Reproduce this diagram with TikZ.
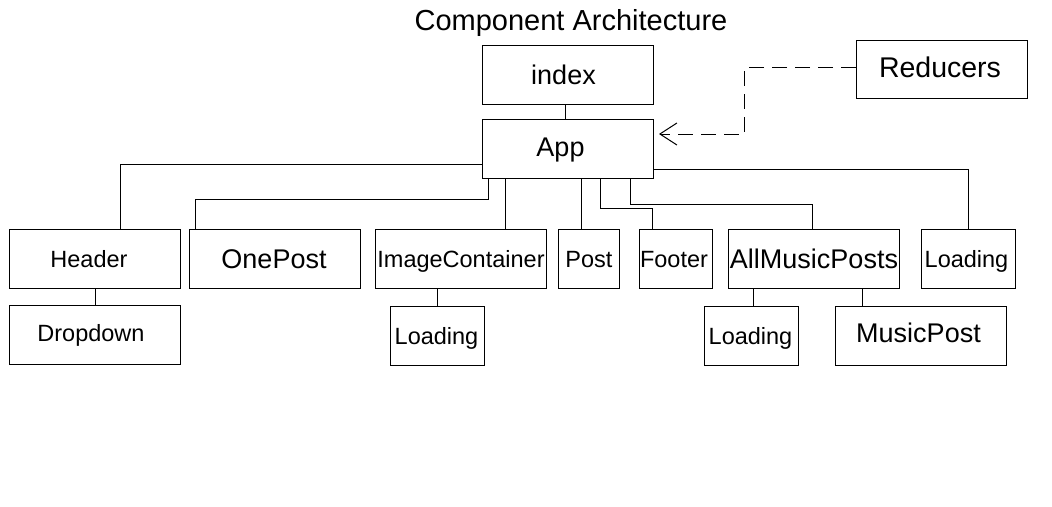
\documentclass[tikz,border=0pt]{standalone}
\usepackage{fontspec}
\setmainfont{Liberation Sans}
\usetikzlibrary{arrows.meta}
\begin{document}
\begin{tikzpicture}[x=1pt,y=-1pt,line width=1pt,
  box/.style={draw,line width=1pt,inner sep=0pt,anchor=north west,minimum height=59pt,text depth=0pt},
  small/.style={font=\fontsize{23.5pt}{28pt}\selectfont,text height=16.9pt},
  big/.style={font=\fontsize{27pt}{32pt}\selectfont,text height=19.4pt},
  conn/.style={line width=1pt},
  dep/.style={line width=1pt,dash pattern=on 15pt off 8pt,-{Straight Barb[length=17pt,width=22pt,line width=1pt]}}]
\useasboundingbox (0,0) rectangle (1052,506);
\node[font=\fontsize{29pt}{34pt}\selectfont] (title) at (571,23.5) {Component Architecture};
\node[box,big,minimum width=171pt] (index) at (482,45) {\hspace*{-9pt}index};
\node[box,big,text height=15.4pt,minimum width=171pt] (App) at (482,119) {\hspace*{-15pt}App};
\node[box,font=\fontsize{28.5pt}{34pt}\selectfont,text height=16.5pt,minimum width=171pt,minimum height=58pt] (Reducers) at (856,40) {\hspace*{-4pt}Reducers};
\node[box,small,minimum width=171pt] (Header) at (9,229) {\hspace*{-12pt}Header};
\node[box,small,text height=12.9pt,minimum width=171pt] (Dropdown) at (9,305) {\hspace*{-8pt}Dropdown};
\node[box,big,minimum width=171pt] (OnePost) at (189,229) {\hspace*{-2pt}OnePost};
\node[box,small,minimum width=171pt] (IC) at (375,229) {ImageContainer};
\node[box,small,minimum width=94pt] (LoadingIC) at (390,306) {\hspace*{-2pt}Loading};
\node[box,small,minimum width=61pt] (Post) at (558,229) {Post};
\node[box,small,minimum width=73pt] (Footer) at (639,229) {\hspace*{-4pt}Footer};
\node[box,big,minimum width=171pt] (AMP) at (728,229) {AllMusicPosts};
\node[box,small,minimum width=94pt] (LoadingR) at (921,229) {\hspace*{-4pt}Loading};
\node[box,small,minimum width=94pt] (LoadingAMP) at (704,306) {\hspace*{-2pt}Loading};
\node[box,big,text height=13.4pt,minimum width=171pt] (MusicPost) at (835,306) {\hspace*{-5pt}MusicPost};
% connectors
\coordinate (i1) at ([xshift=-3pt]index.south);
\draw[conn] (i1) -- (i1 |- App.north);
\draw[conn] (App.west |- 0,164) -| ([xshift=25.5pt]Header.north);
\draw[conn] ([xshift=6.5pt]App.south west) -- ++(0,20.5) -| ([xshift=6.5pt]OnePost.north west);
\coordinate (a1) at ([xshift=23.5pt]App.south west);
\draw[conn] (a1) -- (a1 |- IC.north);
\coordinate (a2) at ([xshift=99.5pt]App.south west);
\draw[conn] (a2) -- (a2 |- Post.north);
\draw[conn] ([xshift=118.5pt]App.south west) -- ++(0,29.5) -| ([xshift=13.5pt]Footer.north west);
\draw[conn] ([xshift=148.5pt]App.south west) -- ++(0,25.5) -| ([xshift=-2pt]AMP.north);
\draw[conn] (App.east |- 0,169.5) -| (LoadingR.north);
\draw[conn] (Header.south) -- (Dropdown.north);
\draw[conn] (LoadingIC.north |- IC.south) -- (LoadingIC.north);
\coordinate (l1) at ([xshift=2pt]LoadingAMP.north);
\draw[conn] (l1 |- AMP.south) -- (l1);
\coordinate (m1) at ([xshift=27pt]MusicPost.north west);
\draw[conn] (m1 |- AMP.south) -- (m1);
\draw[dep] (Reducers.west |- 0,67.5) -- (744.5,67.5) -- (744.5,134) -- ([xshift=5pt]App.east |- 0,134);
\end{tikzpicture}
\end{document}
